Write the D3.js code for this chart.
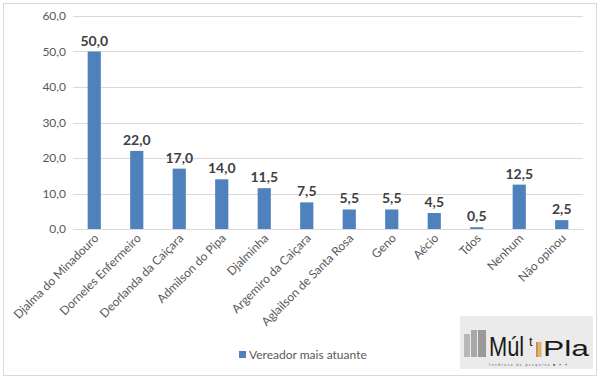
<!DOCTYPE html>
<html><head><meta charset="utf-8">
<script src="https://cdn.jsdelivr.net/npm/d3@7"></script>
<style>body{margin:0;background:#fff;}svg{display:block;font-family:Lato,"Open Sans",sans-serif;}</style>
</head><body>
<svg id="c" width="600" height="380"></svg>
<script>
const categories = ["Djalma do Minadouro","Dorneles Enfermeiro","Deorlanda da Caiçara","Admilson do Pipa","Djalminha","Argemiro da Caiçara","Aglailson de Santa Rosa","Geno","Aécio","Tdos","Nenhum","Não opinou"];
const values = [50.0,22.0,17.0,14.0,11.5,7.5,5.5,5.5,4.5,0.5,12.5,2.5];
const yTicks = [0,10,20,30,40,50,60];
const seriesName = "Vereador mais atuante";

const svg = d3.select("#c");
const fmt = v => d3.format(".1f")(v).replace(".", ",");
svg.append("rect").attr("x",3.5).attr("y",3.5).attr("width",593).attr("height",372)
  .attr("fill","#fff").attr("stroke","#d9d9d9");

const x = d3.scaleBand().domain(categories).range([73,583]).paddingInner(0.69).paddingOuter(0.345);
const y = d3.scaleLinear().domain([0,60]).range([229,16]);

// gridlines
svg.append("g").selectAll("line").data(yTicks).join("line")
  .attr("x1",73).attr("x2",583).attr("y1",d=>Math.round(y(d))+0.5).attr("y2",d=>Math.round(y(d))+0.5)
  .attr("stroke","#d9d9d9");

// y axis
const ya = svg.append("g").attr("transform","translate(66,0)")
  .call(d3.axisLeft(y).tickValues(yTicks).tickFormat(fmt).tickSize(0).tickPadding(0));
ya.select(".domain").remove();
ya.selectAll("text").attr("font-size",12).attr("fill","#595959").attr("font-family","Lato,'Open Sans',sans-serif");

// bars
svg.append("g").selectAll("rect").data(values).join("rect")
  .attr("x",(d,i)=>x(categories[i])).attr("width",x.bandwidth())
  .attr("y",d=>y(d)).attr("height",d=>y(0)-y(d)).attr("fill","#4f81bd");

// data labels
svg.append("g").selectAll("text").data(values).join("text")
  .attr("x",(d,i)=>x(categories[i])+x.bandwidth()/2).attr("y",d=>y(d)-6)
  .attr("text-anchor","middle").attr("font-size",14).attr("font-weight","bold").attr("fill","#404040")
  .text(fmt);

// x axis
const xa = svg.append("g").attr("transform","translate(0,229)")
  .call(d3.axisBottom(x).tickSize(0).tickPadding(0));
xa.select(".domain").attr("stroke","#d9d9d9");
xa.selectAll("text").attr("font-size",12).attr("fill","#595959").attr("font-family","Lato,'Open Sans',sans-serif")
  .attr("text-anchor","end").attr("dy",0)
  .attr("transform","translate(5,10) rotate(-45)");

// legend
const lg = svg.append("g").attr("transform","translate(239,351)");
lg.append("rect").attr("width",7).attr("height",7).attr("fill","#4f81bd");
lg.append("text").attr("x",10).attr("y",7.5).attr("font-size",12).attr("fill","#595959").text(seriesName);

// logo
const logo = svg.append("g").attr("transform","translate(460,316)");
logo.append("rect").attr("width",133).attr("height",53).attr("fill","#ebebeb");
[[4,18,6,"#b8b8b8"],[11,14,6,"#a8a8a8"],[18,14,8,"#9a9a9a"]].forEach(([bx,by,bw,c])=>{
  logo.append("rect").attr("x",bx).attr("y",by).attr("width",bw).attr("height",41-by).attr("fill",c);
});
const lf = "'Liberation Sans',sans-serif";
logo.append("text").attr("transform","translate(29,40) scale(0.78,1)").attr("font-size",28).attr("fill","#1a1a1a").attr("font-family",lf).text("Múl");
logo.append("text").attr("x",69).attr("y",30).attr("font-size",13).attr("fill","#1a1a1a").attr("font-family",lf).text("t");
logo.append("rect").attr("x",76).attr("y",26).attr("width",2.5).attr("height",15).attr("fill","#c8914a");
logo.append("rect").attr("x",79).attr("y",26).attr("width",2.5).attr("height",15).attr("fill","#e0b070");
logo.append("text").attr("x",83).attr("y",40).attr("font-size",22).attr("fill","#1a1a1a").attr("font-family",lf)
  .attr("textLength",46).attr("lengthAdjust","spacingAndGlyphs").text("Pla");
logo.append("text").attr("x",29).attr("y",50).attr("font-size",3.5).attr("fill","#555")
  .attr("textLength",78).text("Instituto de pesquisa ■ • •");
</script>
</body></html>
